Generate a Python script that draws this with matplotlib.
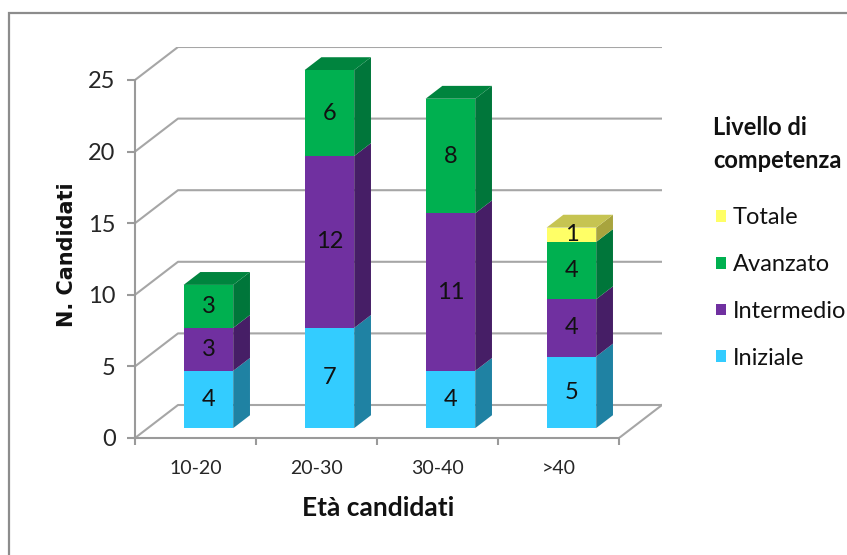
import matplotlib
matplotlib.use("Agg")
import matplotlib.pyplot as plt
from matplotlib.patches import Polygon, Rectangle, Patch

# ---- data ----
categories = ["10-20", "20-30", "30-40", ">40"]
iniziale = [4, 7, 4, 5]
intermedio = [3, 12, 11, 4]
avanzato = [3, 6, 8, 4]
totale = [0, 0, 0, 1]
series_names = ["Iniziale", "Intermedio", "Avanzato", "Totale"]
y_ticks = [0, 5, 10, 15, 20, 25]

series = [iniziale, intermedio, avanzato, totale]
# (front, side, top) colours per series
colours = [
    ("#33CCFF", "#1F82A3", "#2AA8D4"),
    ("#7030A0", "#461E66", "#5A2682"),
    ("#00B050", "#00763A", "#00843E"),
    ("#FFFF66", "#A8A43E", "#C6C452"),
]

FONT = "Lato"
W_PX, H_PX = 847, 555
fig = plt.figure(figsize=(W_PX / 100, H_PX / 100), dpi=100)

# outer chart border
fig.patches.append(Rectangle((9 / W_PX, -0.05), 1.1, 1 - 13 / H_PX + 0.05,
                             transform=fig.transFigure, fill=False,
                             edgecolor="#8C8C8C", linewidth=1.6))

# plot area: front plane x in [0, n], depth offset DX, DY
n = len(categories)
DX = 43 / 121.0
DY = 33 / 14.32
ax = fig.add_axes([135 / W_PX, 117 / H_PX, 527 / W_PX, 391 / H_PX])
ax.set_xlim(0, n + DX)
ax.set_ylim(0, 25 + DY)
ax.patch.set_visible(False)

grid_c = "#A6A6A6"
for v in y_ticks:
    ax.plot([0, DX, n + DX], [v, v + DY, v + DY], color=grid_c, lw=1.5,
            zorder=1, solid_capstyle="butt")
# right floor edge
ax.plot([n, n + DX], [0, DY], color=grid_c, lw=1.5, zorder=1)

for s in ["top", "right"]:
    ax.spines[s].set_visible(False)
for s in ["left", "bottom"]:
    ax.spines[s].set_color("#9A9A9A")
    ax.spines[s].set_linewidth(1.5)
ax.spines["left"].set_bounds(0, 25)
ax.spines["bottom"].set_bounds(0, n)

ax.set_yticks(y_ticks)
ax.set_yticklabels([str(v) for v in y_ticks], fontfamily=FONT, fontsize=17,
                   color="#262626")
ax.tick_params(axis="y", length=6, width=1.5, color="#9A9A9A", pad=8)
ax.set_xticks(range(n + 1))
ax.set_xticklabels([])
ax.tick_params(axis="x", which="major", length=5, width=1.5, color="#9A9A9A")
ax.set_xticks([i + 0.5 for i in range(n)], minor=True)
ax.set_xticklabels(categories, minor=True, fontfamily=FONT, fontsize=14,
                   color="#262626")
ax.tick_params(axis="x", which="minor", length=0, pad=16)

# 3D stacked bars
BW = 0.41      # bar width (category units)
F0 = 0.30      # front depth fraction
DEP = 0.39     # bar depth fraction
ddx, ddy = DEP * DX, DEP * DY
for i in range(n):
    x0 = i + 0.5 - BW / 2 + F0 * DX
    base = F0 * DY
    bottom = 0
    segs = [(k, series[k][i]) for k in range(len(series)) if series[k][i] > 0]
    for j, (k, val) in enumerate(segs):
        y0 = base + bottom
        y1 = y0 + val
        front, side, top = colours[k]
        ax.add_patch(Polygon([(x0 + BW, y0), (x0 + BW + ddx, y0 + ddy),
                              (x0 + BW + ddx, y1 + ddy), (x0 + BW, y1)],
                             closed=True, facecolor=side, edgecolor="none",
                             zorder=3))
        ax.add_patch(Rectangle((x0, y0), BW, val, facecolor=front,
                               edgecolor="none", zorder=4))
        if j == len(segs) - 1:
            ax.add_patch(Polygon([(x0, y1), (x0 + BW, y1),
                                  (x0 + BW + ddx, y1 + ddy),
                                  (x0 + ddx, y1 + ddy)],
                                 closed=True, facecolor=top,
                                 edgecolor="none", zorder=3))
        ax.text(x0 + BW / 2, (y0 + y1) / 2, str(val), ha="center",
                va="center", fontfamily=FONT, fontsize=17, color="#111111",
                zorder=5)
        bottom += val

ax.set_ylabel("N. Candidati", fontfamily="DejaVu Sans", fontweight="bold",
              fontsize=15, color="#111111")
ax.yaxis.set_label_coords(-(135 - 77) / 527, (438 - 255) / 391)
ax.set_xlabel("Età candidati", fontfamily=FONT, fontweight="bold",
              fontsize=19, color="#111111")
ax.xaxis.set_label_coords((378 - 135) / 527, -(496 - 438) / 391)
ax.xaxis.label.set_va("top")

# legend title
fig.text(713 / W_PX, 1 - 116 / H_PX, "Livello di\ncompetenza",
         ha="left", va="top", fontfamily=FONT, fontsize=17,
         fontweight="bold", color="#111111", linespacing=1.55)

# legend entries (top series first)
handles = [Patch(facecolor=colours[k][0], edgecolor="none")
           for k in reversed(range(len(series)))]
labels = [series_names[k] for k in reversed(range(len(series)))]
leg = fig.legend(handles, labels, loc="upper left",
                 bbox_to_anchor=(707 / W_PX, 1 - 198 / H_PX),
                 borderaxespad=0, frameon=False,
                 handlelength=0.4, handleheight=0.4,
                 handletextpad=0.3, labelspacing=1.09,
                 prop={"family": FONT, "size": 17})
for t in leg.get_texts():
    t.set_color("#111111")

fig.savefig("out.png", dpi=100)
